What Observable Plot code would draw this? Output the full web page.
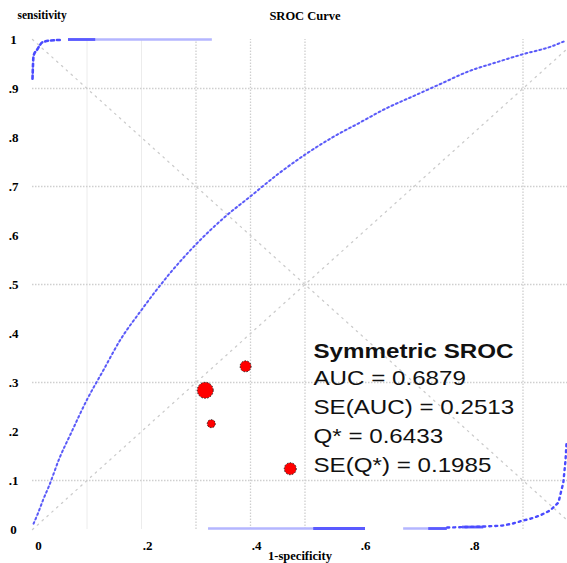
<!DOCTYPE html>
<html><head><meta charset="utf-8">
<script src="https://cdn.jsdelivr.net/npm/d3@7"></script>
<script src="https://cdn.jsdelivr.net/npm/@observablehq/plot@0.6"></script>
<style>html,body{margin:0;padding:0;background:#fff;overflow:hidden}</style>
</head><body><div id="chart"></div>
<script>
// Symmetric SROC curve (1-specificity vs sensitivity)
const curveFpr = [0.002, 0.01, 0.02, 0.03, 0.05, 0.07, 0.1, 0.13, 0.16, 0.2, 0.25, 0.3, 0.35, 0.4, 0.45, 0.5, 0.55, 0.6, 0.65, 0.7, 0.75, 0.8, 0.85, 0.9, 0.95, 0.975];
const curveTpr = [0.012, 0.033, 0.062, 0.088, 0.147, 0.195, 0.265, 0.325, 0.385, 0.448, 0.52, 0.582, 0.635, 0.68, 0.725, 0.765, 0.8, 0.83, 0.86, 0.885, 0.91, 0.935, 0.953, 0.97, 0.985, 0.996];
// upper-left branch
const topFpr = [0.0, 0.002, 0.009, 0.018, 0.033, 0.05];
const topTpr = [0.92, 0.967, 0.98, 0.994, 0.998, 0.999];
// lower-right branch
const botFpr = [0.761, 0.828, 0.862, 0.881, 0.899, 0.914, 0.932, 0.95, 0.965, 0.974, 0.978, 0.98];
const botTpr = [0.004, 0.006, 0.008, 0.012, 0.018, 0.022, 0.029, 0.039, 0.055, 0.096, 0.141, 0.18];
// flat pieces of the branches
const flatStart = [0.066, 0.323, 0.681];
const flatEnd   = [0.33, 0.611, 0.761];
const flatLevel = [1.0, 0.002, 0.002];
const darkStart = [0.066, 0.516, 0.727, 0.789];
const darkEnd   = [0.116, 0.611, 0.761, 0.828];
const darkLevel = [1.0, 0.002, 0.002, 0.005];
// studies
const studyFpr  = [0.317, 0.391, 0.328, 0.473];
const studySens = [0.284, 0.333, 0.216, 0.124];
const studyWeight = [64, 30, 16, 36];
// grid and ticks
const gridXFaint = [0.1, 0.2];
const gridXDotted = [0.3, 0.4, 0.5, 0.9];
const gridY = [0.1, 0.3, 0.5, 0.7, 0.9];
const xTicks = [0, 0.2, 0.4, 0.6, 0.8];
const yTicks = [0, 0.1, 0.2, 0.3, 0.4, 0.5, 0.6, 0.7, 0.8, 0.9, 1];
// statistics box
const statTitle = "Symmetric SROC";
const statLines = ["AUC = 0.6879", "SE(AUC) = 0.2513", "Q* = 0.6433", "SE(Q*) = 0.1985"];
const statX = 0.5156;
const statY = [0.363, 0.308, 0.249, 0.19, 0.131];

const curveData = curveFpr.map((x, i) => ({x, y: curveTpr[i]}));
const topData = topFpr.map((x, i) => ({x, y: topTpr[i]}));
const botData = botFpr.map((x, i) => ({x, y: botTpr[i]}));
const flats = flatStart.map((x1, i) => ({x1, x2: flatEnd[i], y: flatLevel[i]}));
const darks = darkStart.map((x1, i) => ({x1, x2: darkEnd[i], y: darkLevel[i]}));
const studies = studyFpr.map((x, i) => ({x, y: studySens[i], w: studyWeight[i]}));
const stats = [statTitle, ...statLines].map((t, i) => ({t, x: statX, y: statY[i], bold: i === 0}));
const fmt = d => d === 0 ? "0" : d === 1 ? "1" : d.toFixed(1).replace(/^0/, "");

const chart = Plot.plot({
  width: 567, height: 563,
  marginLeft: 32, marginRight: 0, marginTop: 39, marginBottom: 34,
  x: {domain: [0, 1], range: [32, 577]},
  y: {domain: [0, 1], range: [529, 39]},
  r: {type: "sqrt", domain: [0, 64], range: [0, 8]},
  style: {fontFamily: "Liberation Serif", fontWeight: "bold", fontSize: "12px", background: "#fff", color: "#000"},
  marks: [
    Plot.ruleX(gridXFaint, {y1: 0, y2: 1, stroke: "#ececec", strokeWidth: 1}),
    Plot.ruleX(gridXDotted, {y1: 0, y2: 1, stroke: "#cfcfcf", strokeWidth: 1.3, strokeDasharray: "1.5,1.5"}),
    Plot.ruleY(gridY, {x1: 0, x2: 1, stroke: "#cfcfcf", strokeWidth: 1.5, strokeDasharray: "1.5,1.5"}),
    Plot.line([{x: 0, y: 0}, {x: 1, y: 1}], {x: "x", y: "y", stroke: "#cccccc", strokeWidth: 1.3, strokeDasharray: "1.5,5"}),
    Plot.line([{x: 0, y: 1}, {x: 1, y: 0}], {x: "x", y: "y", stroke: "#cccccc", strokeWidth: 1.3, strokeDasharray: "1.5,5"}),
    Plot.ruleY(flats, {y: "y", x1: "x1", x2: "x2", stroke: "#b4b6ff", strokeWidth: 2.5}),
    Plot.ruleY(darks, {y: "y", x1: "x1", x2: "x2", stroke: "#5a5aff", strokeWidth: 2.8}),
    Plot.line(topData, {x: "x", y: "y", stroke: "#4a4aff", strokeWidth: 2.6, strokeDasharray: "3,3", curve: "monotone-x"}),
    Plot.line(botData, {x: "x", y: "y", stroke: "#4a4aff", strokeWidth: 2.4, strokeDasharray: "2,4"}),
    Plot.line(curveData, {x: "x", y: "y", stroke: "#d2d2ff", strokeWidth: 1.2, curve: "monotone-x"}),
    Plot.line(curveData, {x: "x", y: "y", stroke: "#5a5af8", strokeWidth: 2, strokeDasharray: "1.6,3.2", curve: "monotone-x"}),
    Plot.dot(studies, {x: "x", y: "y", r: "w", fill: "#ff0000", stroke: "#222", strokeWidth: 1, strokeDasharray: "1.5,1.5"}),
    Plot.text(stats.filter(d => d.bold), {x: "x", y: "y", text: "t", textAnchor: "start", fontFamily: "Liberation Sans", fontWeight: "bold", fontSize: 21, fill: "#111", ariaLabel: "stats"}),
    Plot.text(stats.filter(d => !d.bold), {x: "x", y: "y", text: "t", textAnchor: "start", fontFamily: "Liberation Sans", fontWeight: "normal", fontSize: 21, fill: "#111", ariaLabel: "stats"}),
    Plot.text(["SROC Curve"], {frameAnchor: "top", lineAnchor: "middle", dx: 5, dy: -24, fontSize: 12.5}),
    Plot.text(["sensitivity"], {frameAnchor: "top-left", lineAnchor: "middle", textAnchor: "start", dx: -15, dy: -24, fontSize: 11.5}),
    Plot.text(["1-specificity"], {frameAnchor: "bottom", lineAnchor: "middle", dy: 26, fontSize: 12.5}),
    Plot.axisY(yTicks, {tickSize: 0, tickPadding: 19, textAnchor: "middle", tickFormat: fmt, fontSize: 13, label: null}),
    Plot.axisX(xTicks, {tickSize: 0, tickPadding: 11, dx: 6, tickFormat: fmt, fontSize: 13, label: null})
  ]
});
document.getElementById("chart").appendChild(chart);
chart.querySelectorAll("text").forEach(el => {
  const lab = el.getAttribute("aria-label") || (el.parentNode && el.parentNode.getAttribute && el.parentNode.getAttribute("aria-label"));
  if (lab === "stats" || el.getAttribute("font-family") === "Liberation Sans" || (el.parentNode.getAttribute && el.parentNode.getAttribute("font-family") === "Liberation Sans")) {
    const L = el.getComputedTextLength();
    el.setAttribute("textLength", (L * 1.15).toFixed(1));
    el.setAttribute("lengthAdjust", "spacingAndGlyphs");
  }
});
</script></body></html>
